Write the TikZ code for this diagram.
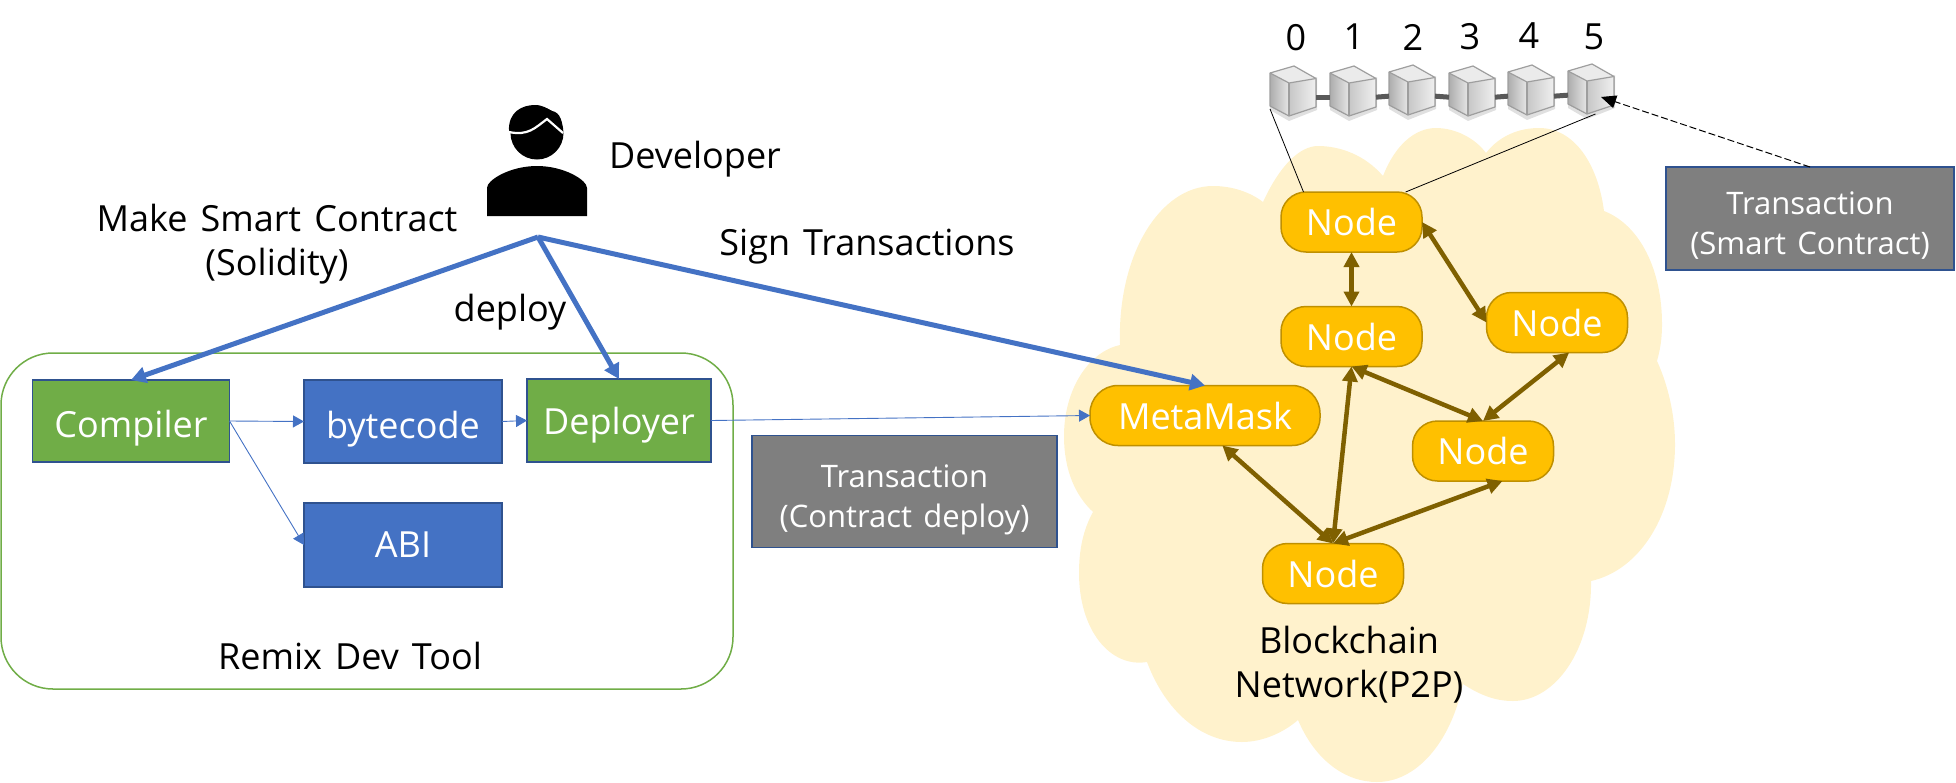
\documentclass[tikz,border=0pt]{standalone}
\usepackage{fontspec}
\setmainfont[WordSpace=1.4]{Open Sans}
\usetikzlibrary{arrows.meta}
\definecolor{bluefill}{HTML}{4472C4}
\definecolor{blueedge}{HTML}{2F528F}
\definecolor{greenfill}{HTML}{70AD47}
\definecolor{goldfill}{HTML}{FFC000}
\definecolor{goldedge}{HTML}{BF9000}
\definecolor{goldlink}{HTML}{7F6000}
\definecolor{cloudfill}{HTML}{FFF2CC}
\definecolor{greyfill}{HTML}{7F7F7F}
\tikzset{
  lbl/.style={font=\fontsize{36}{44}\selectfont, align=center, inner sep=0pt},
  toolbox/.style={draw=blueedge, line width=1.5pt, fill=greenfill, text=white, inner sep=0pt, outer sep=0pt, font=\fontsize{36}{44}\selectfont},
  outbox/.style={toolbox, fill=bluefill},
  txbox/.style={draw=blueedge, line width=1.5pt, fill=greyfill, text=white, inner sep=0pt, outer sep=0pt, align=center, text height=79pt, text depth=8pt, font=\fontsize{31}{40}\selectfont},
  peer/.style={draw=goldedge, line width=1.5pt, fill=goldfill, text=white, inner sep=0pt, outer sep=0pt, minimum width=141pt, minimum height=60pt, rounded corners=25pt, font=\fontsize{36}{44}\selectfont},
  blockbox/.style={inner sep=0pt, outer sep=0pt, minimum width=46pt, minimum height=50pt},
  thick blue/.style={draw=bluefill, line width=5pt, -{Triangle[length=15pt,width=16pt]}},
  thin blue/.style={draw=bluefill, line width=0.9pt, -{Triangle[length=11pt,width=12pt]}},
  peerlink/.style={draw=goldlink, line width=4.5pt, {Triangle[length=15pt,width=15pt]}-{Triangle[length=15pt,width=15pt]}},
  chainlink/.style={draw=black!65, line width=5pt},
  tiewire/.style={draw=black, line width=0.8pt}
}
\newcommand{\blockcube}[3]{%
\fill[black, opacity=0.12] (#2-23,#3-14) -- (#2-4,#3-5) -- (#2+24,#3-14) -- (#2+24,#3+19) -- (#2-4,#3+30) -- (#2-23,#3+19) -- cycle;
\node[blockbox] (#1) at (#2,#3) {};
\begin{scope}[shift={(#2-23,#3-25)}]
\fill[left color=black!32, right color=black!10] (0,7) -- (19,17) -- (19,50) -- (0,40) -- cycle;
\fill[left color=black!22, right color=black!6] (19,17) -- (46,12.5) -- (46,41) -- (19,50) -- cycle;
\fill[black!8] (0,7) -- (24,0) -- (46,12.5) -- (19,17) -- cycle;
\draw[black!38, line width=1.2pt, line join=round] (0,7) -- (24,0) -- (46,12.5) -- (46,41) -- (19,50) -- (0,40) -- cycle;
\draw[black!38, line width=1.2pt, line join=round] (0,7) -- (19,17) -- (46,12.5);
\draw[black!38, line width=1.2pt] (19,17) -- (19,50);
\end{scope}}

\begin{document}
\begin{tikzpicture}[x=1pt,y=-1pt]
\useasboundingbox (0,0) rectangle (1956,782);
\fill[cloudfill] (1263,202) .. controls (1280,165) and (1300,146) .. (1318,146)
 .. controls (1340,146) and (1365,155) .. (1383,176)
 .. controls (1395,145) and (1415,128) .. (1436,128)
 .. controls (1455,128) and (1475,138) .. (1486,153)
 .. controls (1500,135) and (1520,128) .. (1539,128)
 .. controls (1575,128) and (1598,165) .. (1604,211)
 .. controls (1640,225) and (1662,270) .. (1662,324)
 .. controls (1662,340) and (1660,350) .. (1657,361)
 .. controls (1668,385) and (1675,415) .. (1675,444)
 .. controls (1675,515) and (1640,570) .. (1591,581)
 .. controls (1592,650) and (1555,701) .. (1513,701)
 .. controls (1495,701) and (1480,695) .. (1463,684)
 .. controls (1450,745) and (1415,782) .. (1377,782)
 .. controls (1345,782) and (1315,760) .. (1298,720)
 .. controls (1283,733) and (1262,742) .. (1242,742)
 .. controls (1200,742) and (1165,710) .. (1147,662)
 .. controls (1110,668) and (1079,630) .. (1079,573)
 .. controls (1079,550) and (1083,530) .. (1093,512)
 .. controls (1075,495) and (1064,470) .. (1064,436)
 .. controls (1064,390) and (1088,352) .. (1120,345)
 .. controls (1117,255) and (1160,186) .. (1213,186)
 .. controls (1232,186) and (1250,192) .. (1263,202) -- cycle;
\draw[greenfill, line width=1.5pt, rounded corners=52pt] (1,353) rectangle (733,689);
\node[toolbox, minimum width=197pt, minimum height=82pt, text height=40pt, text depth=8pt] (compiler) at (131,421) {Compiler};
\node[outbox, minimum width=198pt, minimum height=83pt, text height=41pt, text depth=8pt] (bytecode) at (403,421.5) {bytecode};
\node[outbox, minimum width=198pt, minimum height=84pt] (abi) at (403,545) {ABI};
\node[toolbox, minimum width=184pt, minimum height=83pt, text height=35pt, text depth=8pt] (deployer) at (619,420.5) {Deployer};
\node[lbl] (remix) at (350,656) {Remix Dev Tool};
\node[txbox, minimum width=305pt, minimum height=112pt] (txdeploy) at (904.5,491.5) {Transaction\\(Contract deploy)};
\node[txbox, minimum width=288pt, minimum height=103pt] (txcontract) at (1810,218.5) {Transaction\\(Smart Contract)};
\node[peer] (ntop) at (1351.5,222) {Node};
\node[peer] (nmid) at (1351.5,336.5) {Node};
\node[peer] (nright) at (1557,322.5) {Node};
\node[peer] (nlow) at (1483,451) {Node};
\node[peer] (nbot) at (1333,573.5) {Node};
\node[peer, minimum width=230pt, rounded corners=28pt] (metamask) at (1205,415.5) {MetaMask};
\node[lbl] (network) at (1349,665) {Blockchain\\Network(P2P)};
\blockcube{b0}{1293}{91}
\blockcube{b1}{1353}{91}
\blockcube{b2}{1412}{90}
\blockcube{b3}{1472}{91}
\blockcube{b4}{1531}{90}
\blockcube{b5}{1591}{89}
\draw[chainlink] (b0.-15) -- (b1.195);
\draw[chainlink] (b1.-15) -- (b2.195);
\draw[chainlink] (b2.-15) -- (b3.195);
\draw[chainlink] (b3.-15) -- (b4.195);
\draw[chainlink] (b4.-15) -- (b5.195);
\node[lbl] (n0) at (1296,38) {0};
\node[lbl] (n1) at (1354,37) {1};
\node[lbl] (n2) at (1413,37) {2};
\node[lbl] (n3) at (1470,37) {3};
\node[lbl] (n4) at (1529,36) {4};
\node[lbl] (n5) at (1594,37) {5};
\fill[black] (487,216) -- (487,188) .. controls (487,180) and (510,166) .. (537,166) .. controls (564,166) and (587,180) .. (587,188) -- (587,216) -- cycle;
\fill[black] (537,133) circle (26.5);
\fill[black] (509,131) .. controls (508,112) and (522,105) .. (535,105) .. controls (543,105) and (548,109) .. (552,111) .. controls (560,112) and (563,122) .. (563,133) -- cycle;
\draw[white, line width=2.2pt] (509,132) .. controls (528,136) and (535,128) .. (547,119) -- (563,133);
\node[lbl] (developer) at (695,159) {Developer};
\node[lbl] (make) at (277,244) {Make Smart Contract\\(Solidity)};
\node[lbl] (sign) at (867,247) {Sign Transactions};
\node[lbl] (deploy) at (510,312) {deploy};
\coordinate (hub) at (538,237);
\coordinate (blocktip) at (1601,97);
\draw[thick blue] (hub) -- (compiler.north);
\draw[thick blue] (hub) -- (deployer.north);
\draw[thick blue] (hub) -- (metamask.north);
\draw[thin blue] (compiler.east) -- (bytecode.west);
\draw[thin blue] (bytecode.east) -- (deployer.west);
\draw[thin blue] (compiler.east) -- (abi.west);
\draw[thin blue] (deployer.east) -- (metamask.west);
\draw[peerlink] (ntop.south) -- (nmid.north);
\draw[peerlink] (ntop.east) -- (nright.west);
\draw[peerlink] (nright.-68) -- (nlow.north);
\draw[peerlink] (nmid.south) -- (nlow.north);
\draw[peerlink] (nmid.south) -- (nbot.north);
\draw[peerlink] (nlow.-57) -- (nbot.north);
\draw[peerlink] (metamask.-60) -- (nbot.north);
\draw[tiewire] (b0.-142) -- (ntop.148);
\draw[tiewire] (ntop.29) -- (b5.-80);
\draw[black, line width=1pt, dash pattern=on 7pt off 3pt, -{Triangle[length=15pt,width=13pt]}] (txcontract.north) -- (blocktip);
\end{tikzpicture}
\end{document}
